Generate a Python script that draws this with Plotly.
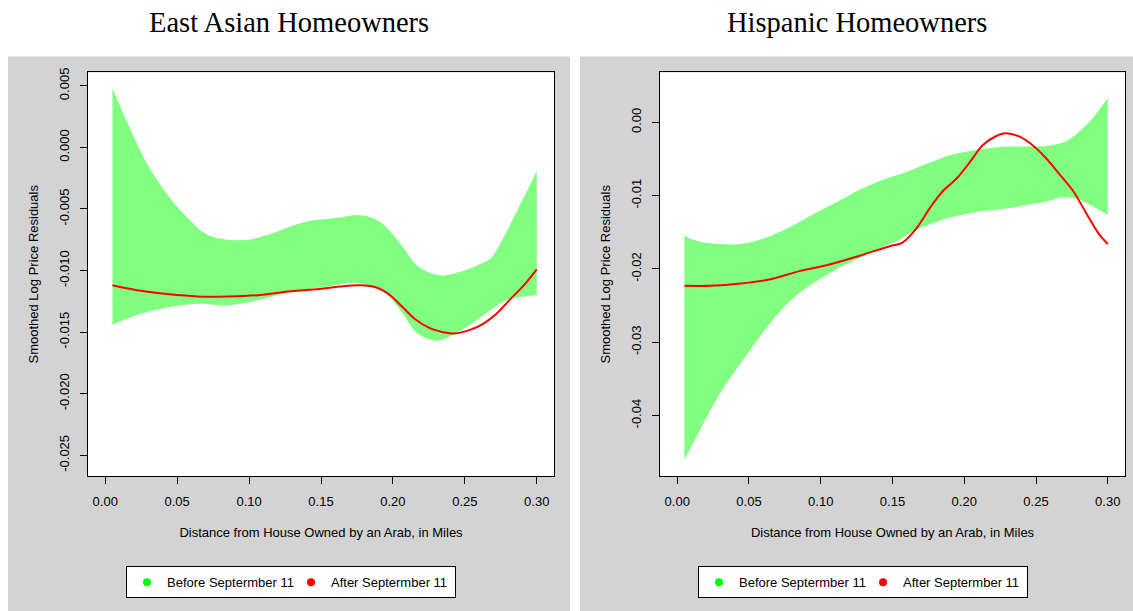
import plotly.graph_objects as go

# ---------------- data ----------------
x_tickvals = [0.00, 0.05, 0.10, 0.15, 0.20, 0.25, 0.30]
x_ticktext = ["0.00", "0.05", "0.10", "0.15", "0.20", "0.25", "0.30"]

ea_tickvals = [0.005, 0.000, -0.005, -0.010, -0.015, -0.020, -0.025]
ea_ticktext = ["0.005", "0.000", "-0.005", "-0.010", "-0.015", "-0.020", "-0.025"]

hi_tickvals = [0.00, -0.01, -0.02, -0.03, -0.04]
hi_ticktext = ["0.00", "-0.01", "-0.02", "-0.03", "-0.04"]

# East Asian homeowners
ea_before_upper_x = [0.005, 0.015, 0.029, 0.043, 0.057, 0.071, 0.085, 0.099, 0.113, 0.127, 0.141,
                     0.155, 0.163, 0.177, 0.189, 0.198, 0.207, 0.216, 0.226, 0.235, 0.247, 0.258,
                     0.268, 0.277, 0.286, 0.293, 0.300]
ea_before_upper = [0.0048, 0.0021, -0.0013, -0.0038, -0.0057, -0.0071, -0.0075, -0.0075, -0.0071,
                   -0.0065, -0.0060, -0.0058, -0.0057, -0.0055, -0.0059, -0.0068, -0.0081, -0.0095,
                   -0.0102, -0.0104, -0.0101, -0.0096, -0.0090, -0.0073, -0.0052, -0.0036, -0.0019]
ea_before_lower_x = [0.005, 0.022, 0.043, 0.064, 0.085, 0.099, 0.113, 0.127, 0.141, 0.155, 0.172,
                     0.189, 0.198, 0.207, 0.216, 0.226, 0.232, 0.244, 0.256, 0.268, 0.279, 0.291, 0.300]
ea_before_lower = [-0.0144, -0.0136, -0.0130, -0.0127, -0.0128, -0.0126, -0.0122, -0.0118, -0.0115,
                   -0.0113, -0.0110, -0.0114, -0.0122, -0.0135, -0.0150, -0.0156, -0.0157, -0.0151,
                   -0.0142, -0.0132, -0.0124, -0.0121, -0.0120]
ea_after_x = [0.005, 0.022, 0.043, 0.064, 0.085, 0.106, 0.127, 0.149, 0.163, 0.177, 0.189, 0.198,
              0.207, 0.216, 0.226, 0.235, 0.244, 0.254, 0.263, 0.272, 0.281, 0.291, 0.300]
ea_after = [-0.0112, -0.0116, -0.0119, -0.0121, -0.0121, -0.0120, -0.0117, -0.0115, -0.0113, -0.0112,
            -0.0114, -0.0120, -0.0130, -0.0140, -0.0147, -0.0150, -0.0151, -0.0148, -0.0143, -0.0135,
            -0.0124, -0.0112, -0.0099]

# Hispanic homeowners
hi_before_upper_x = [0.005, 0.016, 0.030, 0.044, 0.058, 0.072, 0.085, 0.099, 0.113, 0.127, 0.141,
                     0.155, 0.162, 0.176, 0.190, 0.204, 0.218, 0.232, 0.246, 0.259, 0.271, 0.280,
                     0.290, 0.300]
hi_before_upper = [-0.0155, -0.0163, -0.0166, -0.0166, -0.0160, -0.0149, -0.0136, -0.0121, -0.0107,
                   -0.0092, -0.0080, -0.0071, -0.0066, -0.0055, -0.0045, -0.0039, -0.0035, -0.0033,
                   -0.0033, -0.0032, -0.0026, -0.0013, 0.0007, 0.0033]
hi_before_lower_x = [0.005, 0.016, 0.030, 0.044, 0.058, 0.072, 0.085, 0.099, 0.113, 0.127, 0.141,
                     0.155, 0.162, 0.176, 0.190, 0.204, 0.218, 0.232, 0.246, 0.259, 0.269, 0.278,
                     0.287, 0.300]
hi_before_lower = [-0.0460, -0.0419, -0.0369, -0.0329, -0.0291, -0.0257, -0.0233, -0.0214, -0.0198,
                   -0.0185, -0.0172, -0.0160, -0.0151, -0.0139, -0.0130, -0.0124, -0.0120, -0.0117,
                   -0.0112, -0.0107, -0.0102, -0.0104, -0.0112, -0.0126]
hi_after_x = [0.005, 0.023, 0.044, 0.065, 0.085, 0.106, 0.127, 0.148, 0.157, 0.167, 0.176, 0.185,
              0.195, 0.204, 0.213, 0.222, 0.229, 0.239, 0.248, 0.257, 0.266, 0.276, 0.285, 0.294, 0.300]
hi_after = [-0.0223, -0.0223, -0.0220, -0.0214, -0.0203, -0.0194, -0.0182, -0.0169, -0.0164, -0.0144,
            -0.0117, -0.0094, -0.0076, -0.0054, -0.0031, -0.0019, -0.0015, -0.0020, -0.0032, -0.0049,
            -0.0070, -0.0094, -0.0124, -0.0153, -0.0166]

titles = ["East Asian Homeowners", "Hispanic Homeowners"]
series_names = ["Before Septermber 11", "After Septermber 11"]
x_title = "Distance from House Owned by an Arab, in Miles"
y_title = "Smoothed Log Price Residuals"

# ---------------- styling ----------------
W, H = 1133, 611
BAND = "rgb(128,255,128)"
RED = "#FF0000"
GREEN_DOT = "#00FF00"
GRAY = "#D3D3D3"
SANS = "Liberation Sans, Arial, Helvetica, sans-serif"
SERIF = "Liberation Serif, Times New Roman, serif"


def px(v):
    return v / W


def py(v):
    return 1 - v / H


fig = go.Figure()

panels = [
    dict(xa="x", ya="y", leg="legend",
         ux=ea_before_upper_x, uy=ea_before_upper, lx=ea_before_lower_x, ly=ea_before_lower,
         ax=ea_after_x, ay=ea_after),
    dict(xa="x2", ya="y2", leg="legend2",
         ux=hi_before_upper_x, uy=hi_before_upper, lx=hi_before_lower_x, ly=hi_before_lower,
         ax=hi_after_x, ay=hi_after),
]

for p in panels:
    fig.add_trace(go.Scatter(x=p["lx"], y=p["ly"], mode="lines",
                             line=dict(width=0, shape="spline", smoothing=1, color=BAND),
                             xaxis=p["xa"], yaxis=p["ya"], showlegend=False, hoverinfo="skip"))
    fig.add_trace(go.Scatter(x=p["ux"], y=p["uy"], mode="lines", fill="tonexty", fillcolor=BAND,
                             line=dict(width=0, shape="spline", smoothing=1, color=BAND),
                             xaxis=p["xa"], yaxis=p["ya"], showlegend=False, hoverinfo="skip"))
    fig.add_trace(go.Scatter(x=p["ax"], y=p["ay"], mode="lines",
                             line=dict(width=2, shape="spline", smoothing=1, color=RED),
                             xaxis=p["xa"], yaxis=p["ya"], showlegend=False))
    # legend entries
    fig.add_trace(go.Scatter(x=[None], y=[None], mode="markers", name=series_names[0],
                             marker=dict(color=GREEN_DOT, size=8),
                             xaxis=p["xa"], yaxis=p["ya"], legend=p["leg"]))
    fig.add_trace(go.Scatter(x=[None], y=[None], mode="markers", name=series_names[1],
                             marker=dict(color=RED, size=8),
                             xaxis=p["xa"], yaxis=p["ya"], legend=p["leg"]))

plot_boxes = [(88, 554), (660, 1125)]
panel_boxes = [(8, 570), (580, 1133)]
top, bottom = 68, 475

shapes = []
for (l, r) in panel_boxes:
    shapes.append(dict(type="rect", xref="paper", yref="paper", x0=px(l), x1=px(r), y0=0, y1=py(52),
                       fillcolor=GRAY, line=dict(width=0), layer="below"))
for (l, r) in plot_boxes:
    shapes.append(dict(type="rect", xref="paper", yref="paper", x0=px(l), x1=px(r), y0=py(bottom),
                       y1=py(top), fillcolor="white", line=dict(width=0), layer="below"))

annotations = []
for (l, r), t in zip(panel_boxes, titles):
    annotations.append(dict(text=t, xref="paper", yref="paper", x=px((l + r) / 2), y=py(18),
                            xanchor="center", yanchor="middle", showarrow=False,
                            font=dict(family=SERIF, size=28.5, color="black")))

common_x = dict(range=[-0.012, 0.312], tickvals=x_tickvals, ticktext=x_ticktext,
                ticks="outside", ticklen=7, tickwidth=1, tickcolor="black", ticklabelstandoff=6,
                showline=True, mirror=True, linecolor="black", linewidth=1,
                showgrid=False, zeroline=False,
                tickfont=dict(family=SANS, size=13, color="black"),
                title=dict(text=x_title, font=dict(family=SANS, size=13, color="black"), standoff=20))
common_y = dict(ticks="outside", ticklen=7, tickwidth=1, tickcolor="black", tickangle=-90,
                ticklabelstandoff=6,
                showline=True, mirror=True, linecolor="black", linewidth=1,
                showgrid=False, zeroline=False,
                tickfont=dict(family=SANS, size=13, color="black"),
                title=dict(text=y_title, font=dict(family=SANS, size=13, color="black"), standoff=15))

legend_common = dict(orientation="h", xanchor="left", yanchor="top", y=py(566),
                     bgcolor="white", bordercolor="black", borderwidth=1, traceorder="normal",
                     font=dict(family=SANS, size=13, color="black"), itemwidth=30,
                     entrywidth=119, entrywidthmode="pixels")

fig.update_layout(
    width=W, height=H, autosize=False,
    margin=dict(l=0, r=0, t=0, b=0),
    paper_bgcolor="white", plot_bgcolor="rgba(0,0,0,0)",
    shapes=shapes, annotations=annotations,
    xaxis=dict(domain=[px(88), px(554)], anchor="y", **common_x),
    xaxis2=dict(domain=[px(660), px(1125)], anchor="y2", **common_x),
    yaxis=dict(domain=[py(bottom), py(top)], anchor="x", range=[-0.02669, 0.006087],
               tickvals=ea_tickvals, ticktext=ea_ticktext, **common_y),
    yaxis2=dict(domain=[py(bottom), py(top)], anchor="x2", range=[-0.04826, 0.0068],
                tickvals=hi_tickvals, ticktext=hi_ticktext, **common_y),
    legend=dict(x=px(126), **legend_common),
    legend2=dict(x=px(698), **legend_common),
    hovermode=False,
)

fig.write_html(
    "out.html",
    config={"displayModeBar": False, "staticPlot": True},
    post_script=("document.body.style.margin='0';document.body.style.padding='0';"
                 "var gd=document.getElementsByClassName('plotly-graph-div')[0];"
                 "gd.style.position='absolute';gd.style.top='0px';gd.style.left='0px';"),
)
